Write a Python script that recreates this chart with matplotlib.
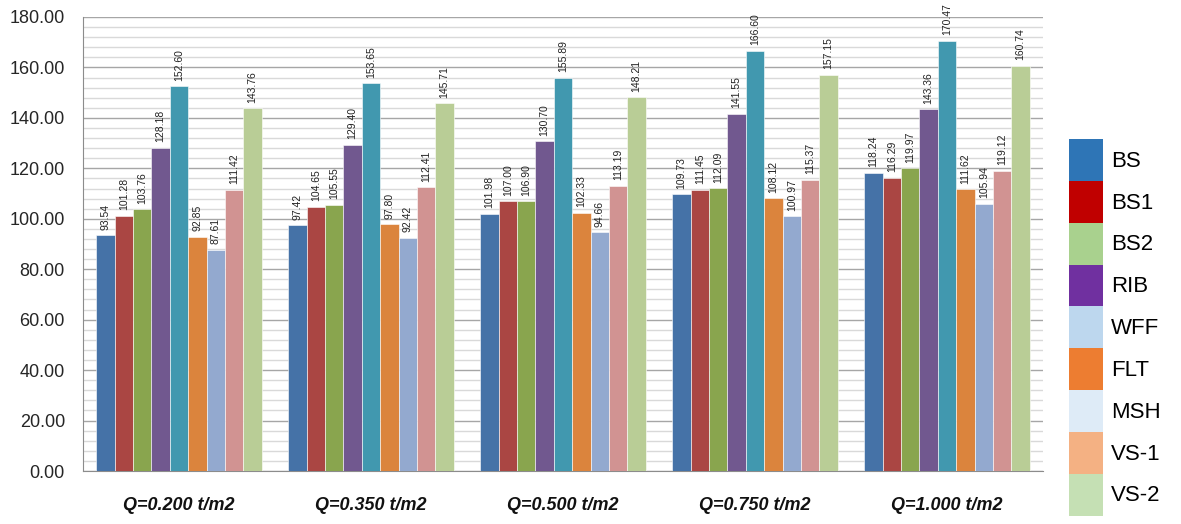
import matplotlib.pyplot as plt
import numpy as np
from matplotlib.patches import Patch

# data
groups = ['Q=0.200 t/m2', 'Q=0.350 t/m2', 'Q=0.500 t/m2', 'Q=0.750 t/m2', 'Q=1.000 t/m2']
series = ['BS', 'BS1', 'BS2', 'RIB', 'WFF', 'FLT', 'MSH', 'VS-1', 'VS-2']
BS = [93.54, 97.42, 101.98, 109.73, 118.24]
BS1 = [101.28, 104.65, 107.00, 111.45, 116.29]
BS2 = [103.76, 105.55, 106.90, 112.09, 119.97]
RIB = [128.18, 129.40, 130.70, 141.55, 143.36]
WFF = [152.60, 153.65, 155.89, 166.60, 170.47]
FLT = [92.85, 97.80, 102.33, 108.12, 111.62]
MSH = [87.61, 92.42, 94.66, 100.97, 105.94]
VS1 = [111.42, 112.41, 113.19, 115.37, 119.12]
VS2 = [143.76, 145.71, 148.21, 157.15, 160.74]
values = [BS, BS1, BS2, RIB, WFF, FLT, MSH, VS1, VS2]

bar_colors = ['#4572A7', '#AA4643', '#89A54E', '#71588F', '#4198AF',
              '#DB843D', '#93A9CF', '#D19392', '#B9CD96']
legend_colors = ['#2E75B6', '#C00000', '#A9D18E', '#7030A0', '#BDD7EE',
                 '#ED7D31', '#DEEBF7', '#F4B183', '#C5E0B4']

fig = plt.figure(figsize=(11.81, 5.24), dpi=100)
ax = fig.add_axes([83/1181, 1-471/524, 960/1181, 454/524])

x = np.arange(len(groups))
w = 0.0956
for i, (vals, c) in enumerate(zip(values, bar_colors)):
    pos = x + (i - 4) * w
    ax.bar(pos, vals, w, color=c, edgecolor='white', linewidth=0.4, zorder=3)
    for p, v in zip(pos, vals):
        ax.annotate(f'{v:.2f}', (p, v), xytext=(0, 4), textcoords='offset points',
                    rotation=90, ha='center', va='bottom', fontsize=7.5,
                    family='Liberation Sans', color='#222222', annotation_clip=False)

ax.set_xlim(-0.5, 4.5)
ax.set_ylim(0, 180)
ax.set_yticks(np.arange(0, 181, 20))
ax.set_yticks(np.arange(0, 181, 4), minor=True)
ax.set_yticklabels([f'{t:.2f}' for t in np.arange(0, 181, 20)],
                   fontsize=13, family='Liberation Sans', color='#262626')
ax.tick_params(axis='y', which='both', length=0, pad=13)
ax.grid(axis='y', which='major', color='#A6A6A6', linewidth=1.0, zorder=0)
ax.grid(axis='y', which='minor', color='#D9D9D9', linewidth=1.0, zorder=0)

ax.set_xticks(x)
ax.set_xticklabels(groups, fontsize=13, fontweight='bold', style='italic',
                   family='Liberation Sans', color='#111111')
ax.tick_params(axis='x', length=0, pad=19)

for s in ['top', 'right']:
    ax.spines[s].set_visible(False)
ax.spines['left'].set_color('#8C8C8C')
ax.spines['bottom'].set_color('#8C8C8C')

handles = [Patch(facecolor=c, edgecolor='none') for c in legend_colors]
fig.legend(handles, series, loc='upper left', bbox_to_anchor=(1069/1181, 1-139/524),
           frameon=False, borderpad=0, borderaxespad=0, labelspacing=0,
           handlelength=1.53, handleheight=2.52, handletextpad=0.35,
           prop={'family': 'Liberation Sans', 'size': 16})

fig.savefig('out.png', dpi=100)
